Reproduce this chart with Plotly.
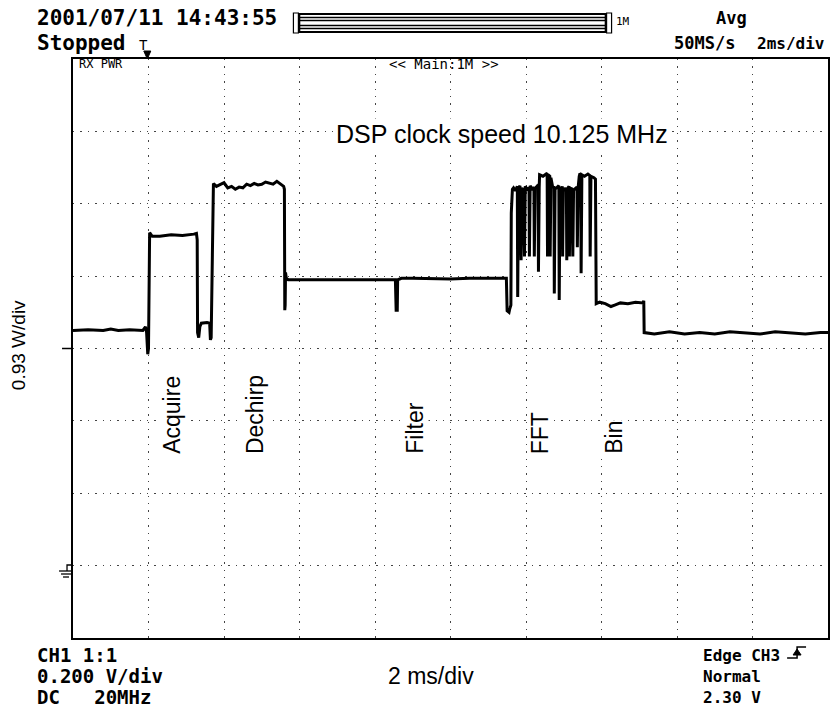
import plotly.graph_objects as go

# ---------------- data (time in ms, level in divisions) ----------------
time_ms = [
    0.00, 0.40, 0.80, 1.00, 1.20, 1.50, 1.85, 1.92, 1.95, 1.98, 2.00, 2.01, 2.03, 2.10,
    2.30, 2.60, 2.90, 3.20, 3.27, 3.29, 3.30, 3.33, 3.36, 3.40, 3.55, 3.62, 3.64, 3.66,
    3.68, 3.70, 3.72, 3.80, 3.90, 4.00, 4.10, 4.20, 4.30, 4.40, 4.50, 4.60, 4.70, 4.80,
    4.90, 5.00, 5.10, 5.20, 5.30, 5.40, 5.50, 5.58, 5.60, 5.61, 5.62, 5.63, 5.65, 5.70,
    6.00, 6.50, 7.00, 7.50, 8.00, 8.50, 8.54, 8.56, 8.59, 8.60, 8.70, 9.00, 9.50, 10.00,
    10.50, 11.00, 11.40, 11.48, 11.50, 11.55, 11.57, 11.60, 11.61, 11.64, 11.67, 11.72,
    11.77, 11.78, 11.80, 11.84, 11.87, 11.89, 11.93, 11.96, 11.98, 12.03, 12.08, 12.09,
    12.11, 12.16, 12.21, 12.22, 12.24, 12.29, 12.32, 12.33, 12.35, 12.36, 12.45, 12.56,
    12.57, 12.59, 12.63, 12.64, 12.66, 12.69, 12.71, 12.74, 12.75, 12.77, 12.82, 12.87,
    12.88, 12.90, 12.94, 12.96, 12.97, 12.99, 13.03, 13.07, 13.08, 13.10, 13.14, 13.15,
    13.17, 13.21, 13.24, 13.26, 13.31, 13.35, 13.36, 13.38, 13.41, 13.43, 13.45, 13.46,
    13.48, 13.55, 13.64, 13.69, 13.70, 13.72, 13.80, 13.84, 13.86, 13.95, 14.10, 14.25,
    14.35, 14.50, 14.70, 14.90, 15.10, 15.12, 15.13, 15.40, 15.80, 16.20, 16.60, 17.00,
    17.40, 17.80, 18.20, 18.60, 19.00, 19.40, 19.80, 20.00,
]
level_div = [
    4.25, 4.26, 4.25, 4.27, 4.25, 4.26, 4.25, 4.30, 4.22, 3.92, 4.00, 5.50, 5.60, 5.55,
    5.55, 5.57, 5.56, 5.58, 5.59, 5.50, 4.22, 4.15, 4.30, 4.35, 4.36, 4.35, 4.12, 4.15,
    4.90, 6.10, 6.28, 6.24, 6.27, 6.29, 6.22, 6.24, 6.20, 6.23, 6.22, 6.27, 6.25, 6.28,
    6.26, 6.27, 6.30, 6.28, 6.27, 6.31, 6.27, 6.24, 6.20, 4.53, 4.60, 5.05, 4.97, 4.95,
    4.95, 4.96, 4.95, 4.96, 4.95, 4.96, 4.95, 4.53, 4.53, 4.95, 4.97, 4.97, 4.96, 4.96,
    4.97, 4.97, 4.96, 4.97, 4.52, 4.50, 4.55, 4.60, 5.87, 6.20, 6.22, 6.18,
    6.24, 4.71, 6.20, 6.25, 5.22, 6.22, 6.18, 5.27, 6.24, 6.20, 6.22, 5.27,
    6.25, 6.19, 6.23, 5.27, 6.21, 6.24, 6.20, 5.06, 6.22, 6.40, 6.38, 6.42,
    5.27, 6.40, 6.38, 5.27, 6.36, 6.26, 6.22, 6.24, 4.76, 6.20, 6.23, 6.25,
    4.67, 6.22, 6.20, 6.24, 5.27, 6.22, 6.18, 6.22, 5.22, 6.21, 6.24, 5.27,
    6.20, 6.22, 5.27, 6.19, 6.21, 6.23, 5.40, 6.22, 6.38, 6.42, 6.40, 5.04,
    6.40, 6.38, 6.41, 6.39, 5.27, 6.38, 6.36, 6.34, 4.62, 4.64, 4.62, 4.58,
    4.60, 4.63, 4.62, 4.64, 4.63, 4.66, 4.22, 4.20, 4.23, 4.20, 4.22, 4.20,
    4.23, 4.21, 4.20, 4.23, 4.21, 4.20, 4.22, 4.22,
]

# phase labels
phase_names = ["Acquire", "Dechirp", "Filter", "FFT", "Bin"]
phase_time_ms = [2.62, 4.84, 9.07, 12.38, 14.34]
phase_label_base_div = 2.53

# scope read-outs
header_date = "2001/07/11 14:43:55"
header_state = "Stopped"
header_mode = "Avg"
header_rate = "50MS/s"
header_tdiv = "2ms/div"
footer_left = ["CH1 1:1", "0.200 V/div", "DC   20MHz"]
footer_right = ["Edge CH3", "Normal", "2.30 V"]
x_caption = "2 ms/div"
y_caption = "0.93 W/div"
title_note = "DSP clock speed 10.125 MHz"
n_xdiv, n_ydiv = 10, 8
ms_per_div = 2

# ---------------- figure ----------------
W, H = 831, 709
ML, MR, MT, MB = 73, 1, 59, 71
PW, PH = W - ML - MR, H - MT - MB


def px(xp):
    return (xp - ML) / PW


def py(yp):
    return (MT + PH - yp) / PH


MONO = "DejaVu Sans Mono"
SANS = "Arial, Liberation Sans, sans-serif"

fig = go.Figure()
fig.add_trace(go.Scatter(x=time_ms, y=level_div, mode="lines",
                         line=dict(color="black", width=3), hoverinfo="skip",
                         showlegend=False))

axis_common = dict(showline=True, mirror=True, linecolor="black", linewidth=1.5,
                   showticklabels=False, ticks="", zeroline=False, showgrid=True,
                   gridcolor="#444444", gridwidth=1.4, griddash="1.4px,6px")
fig.update_xaxes(range=[0, n_xdiv * ms_per_div], dtick=ms_per_div, **axis_common)
fig.update_yaxes(range=[0, n_ydiv], dtick=1, **axis_common)

ann = []
# phase labels
for name, t in zip(phase_names, phase_time_ms):
    ann.append(dict(x=t, y=phase_label_base_div, xref="x", yref="y", text=name,
                    textangle=-90, showarrow=False, xanchor="center", yanchor="bottom",
                    font=dict(family=SANS, size=23, color="black"),
                    bgcolor="white", borderpad=0))
ann.append(dict(x=px(335), y=py(134), xref="paper", yref="paper", text=title_note,
                showarrow=False, xanchor="left", yanchor="middle",
                font=dict(family=SANS, size=25, color="black"), bgcolor="white",
                borderpad=1))
ann.append(dict(x=px(18), y=py(345), xref="paper", yref="paper", text=y_caption,
                textangle=-90, showarrow=False, xanchor="center", yanchor="middle",
                font=dict(family=SANS, size=19, color="black")))
ann.append(dict(x=px(432), y=py(676), xref="paper", yref="paper", text=x_caption,
                showarrow=False, xanchor="center", yanchor="middle",
                font=dict(family=SANS, size=23, color="black")))


def mono(text, x, y, size=19, anchor="left", bold=True):
    return dict(x=px(x), y=py(y), xref="paper", yref="paper", text=text,
                showarrow=False, xanchor=anchor, yanchor="middle",
                font=dict(family=MONO, size=size, color="black",
                          weight="bold" if bold else "normal"))


# header
ann.append(mono(header_date, 35, 18, 21))
ann.append(mono(header_state, 35, 43, 21))
ann.append(mono(header_mode, 716, 18, 17))
ann.append(mono(header_rate, 674, 43, 17))
ann.append(mono(header_tdiv, 829, 43, 16, anchor="right"))
ann.append(mono("T", 137, 45, 14, bold=False))
ann.append(mono("1M", 615, 22, 11, bold=False))
ann.append(mono("RX PWR", 77, 64, 12, bold=False))
ann.append(mono("<< Main:1M >>", 445, 64, 14, anchor="center", bold=False))
for i, s in enumerate(footer_left):
    ann.append(mono(s, 35, 655 + 21 * i, 19))
for i, s in enumerate(footer_right):
    ann.append(mono(s, 703, 655 + 21 * i, 16))
fig.update_layout(annotations=ann)

# decorations (scope furniture)
shapes = []
line = dict(color="black", width=1.5)
# memory bar
shapes.append(dict(type="rect", xref="paper", yref="paper", x0=px(294), x1=px(299),
                   y0=py(33), y1=py(13), line=dict(color="black", width=1.2)))
shapes.append(dict(type="rect", xref="paper", yref="paper", x0=px(300), x1=px(607),
                   y0=py(32), y1=py(14), line=dict(color="black", width=1.8)))
for yb in [17.5, 20.5, 25.5, 28.5]:
    shapes.append(dict(type="line", xref="paper", yref="paper", x0=px(300), x1=px(607),
                       y0=py(yb), y1=py(yb), line=dict(color="black", width=1.5)))
shapes.append(dict(type="rect", xref="paper", yref="paper", x0=px(608), x1=px(613),
                   y0=py(33), y1=py(13), line=dict(color="black", width=1.2)))
# trigger marker
shapes.append(dict(type="path", xref="paper", yref="paper",
                   path=f"M {px(144)} {py(51)} L {px(151)} {py(51)} L {px(147.5)} {py(59)} Z",
                   fillcolor="black", line=dict(color="black", width=1)))
# level marker on the left
shapes.append(dict(type="line", xref="paper", yref="y", x0=px(62), x1=px(73),
                   y0=4, y1=4, line=line))
# ground marker
shapes.append(dict(type="path", xref="paper", yref="paper",
                   path=f"M {px(73)} {py(565)} L {px(67)} {py(565)} L {px(67)} {py(571)}",
                   line=dict(color="black", width=1.3)))
for yy, a, b in [(571, 59, 73), (574, 61, 71), (577, 63, 69)]:
    shapes.append(dict(type="line", xref="paper", yref="paper", x0=px(a), x1=px(b),
                       y0=py(yy), y1=py(yy), line=dict(color="black", width=1.3)))
# edge trigger symbol
shapes.append(dict(type="path", xref="paper", yref="paper",
                   path=(f"M {px(789)} {py(658)} L {px(799)} {py(658)} L {px(799)} {py(647)}"
                         f" L {px(808)} {py(647)}"),
                   line=dict(color="black", width=1.5)))
shapes.append(dict(type="path", xref="paper", yref="paper",
                   path=f"M {px(795)} {py(655)} L {px(803)} {py(655)} L {px(799)} {py(649)} Z",
                   fillcolor="black", line=dict(color="black", width=1)))

fig.update_layout(
    width=W, height=H, margin=dict(l=ML, r=MR, t=MT, b=MB, pad=0),
    paper_bgcolor="white", plot_bgcolor="white", showlegend=False, shapes=shapes,
)

fig.write_html(
    "out.html",
    config={"displayModeBar": False},
    post_script="document.body.style.margin='0';document.body.style.overflow='hidden';",
)
